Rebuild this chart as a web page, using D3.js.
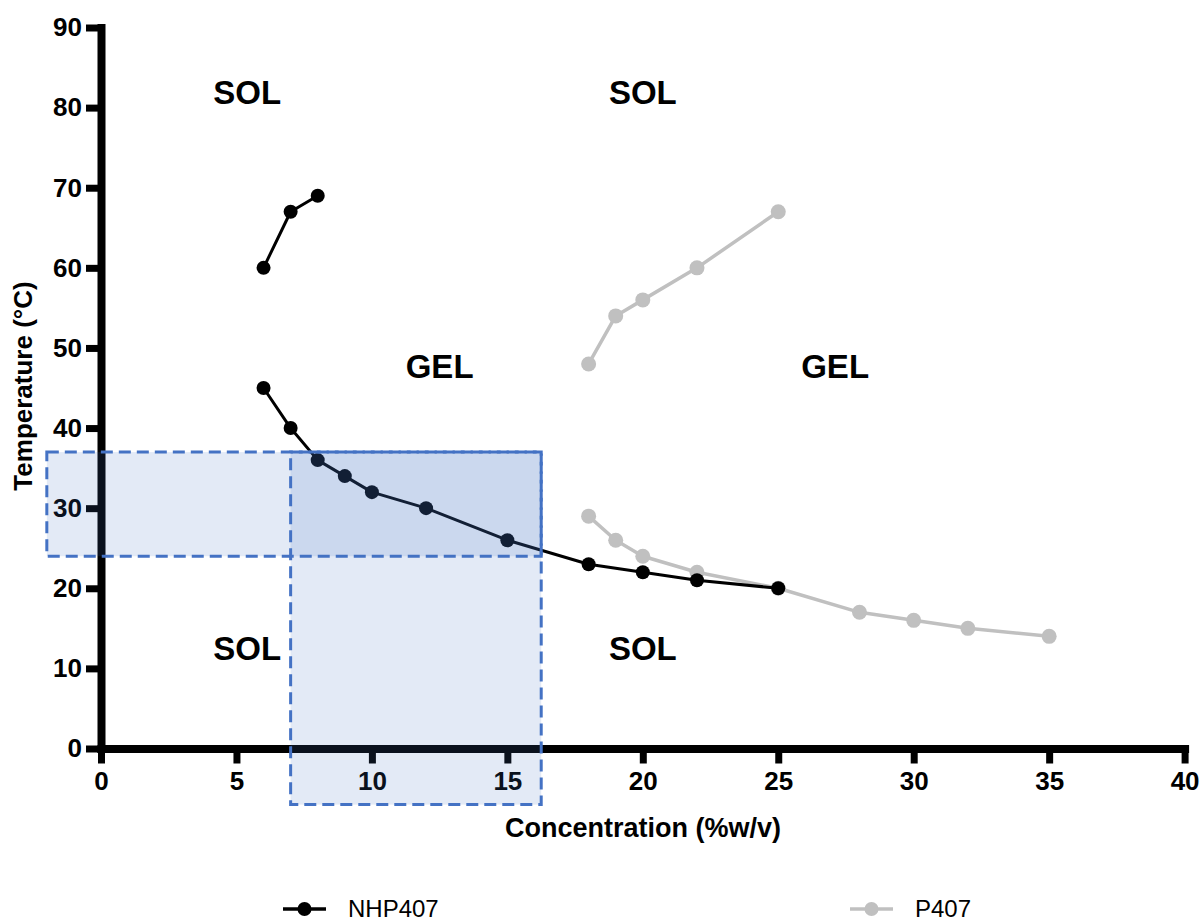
<!DOCTYPE html>
<html>
<head>
<meta charset="utf-8">
<script src="https://cdn.jsdelivr.net/npm/d3@7"></script>
<style>
  html, body { margin: 0; padding: 0; background: #fff; }
  svg { display: block; font-family: "Liberation Sans", Arial, Helvetica, sans-serif; }
</style>
</head>
<body>
<svg id="chart" width="1204" height="921"></svg>
<script>
// ---------------- data ----------------
const xTicks = [0, 5, 10, 15, 20, 25, 30, 35, 40];
const yTicks = [0, 10, 20, 30, 40, 50, 60, 70, 80, 90];

// NHP407 (black) — two branches
const nhpUpperConc = [6, 7, 8];
const nhpUpperTemp = [60, 67, 69];
const nhpLowerConc = [6, 7, 8, 9, 10, 12, 15, 18, 20, 22, 25];
const nhpLowerTemp = [45, 40, 36, 34, 32, 30, 26, 23, 22, 21, 20];

// P407 (grey) — two branches
const pUpperConc = [18, 19, 20, 22, 25];
const pUpperTemp = [48, 54, 56, 60, 67];
const pLowerConc = [18, 19, 20, 22, 25, 28, 30, 32, 35];
const pLowerTemp = [29, 26, 24, 22, 20, 17, 16, 15, 14];

// phase-region annotations (concentration, temperature of label centre)
const regionLabels = ["SOL", "SOL", "GEL", "GEL", "SOL", "SOL"];
const regionConc = [5.4, 20.0, 12.5, 27.1, 5.4, 20.0];
const regionTemp = [81.9, 81.9, 47.75, 47.75, 12.55, 12.55];

// highlighted windows (concentration range x temperature range)
const windowConcLo = [-2, 7];
const windowConcHi = [16.25, 16.25];
const windowTempLo = [24, -7];
const windowTempHi = [37, 37];

const seriesNames = ["NHP407", "P407"];
const seriesColors = ["#000000", "#c0c0c0"];

// ---------------- chart ----------------
const svg = d3.select("#chart");
const font = '"Liberation Sans", Arial, Helvetica, sans-serif';

const x = d3.scaleLinear().domain([0, 40]).range([101, 1184.6]);
const y = d3.scaleLinear().domain([0, 90]).range([748.5, 27.5]);

// axes
const yAxis = d3.axisLeft(y).tickValues(yTicks).tickSize(15).tickSizeOuter(0).tickPadding(4);
const xAxis = d3.axisBottom(x).tickValues(xTicks).tickSize(15).tickSizeOuter(0).tickPadding(8);

const gy = svg.append("g").attr("transform", `translate(${x(0)},0)`).call(yAxis);
const gx = svg.append("g").attr("transform", `translate(0,${y(0)})`).call(xAxis);

[gx, gy].forEach(g => {
  g.select(".domain").attr("stroke", "#000").attr("stroke-width", 8).attr("stroke-linecap", "square");
  g.selectAll(".tick line").attr("stroke", "#000").attr("stroke-width", 7);
  g.selectAll(".tick text")
    .attr("fill", "#000")
    .style("font-family", font)
    .style("font-size", "26px")
    .style("font-weight", "bold");
});

// axis titles
svg.append("text")
  .attr("transform", `translate(32,${386}) rotate(-90)`)
  .attr("text-anchor", "middle")
  .style("font-size", "26px").style("font-weight", "bold")
  .text("Temperature (°C)");

svg.append("text")
  .attr("x", 643).attr("y", 837)
  .attr("text-anchor", "middle")
  .style("font-size", "27px").style("font-weight", "bold")
  .text("Concentration (%w/v)");

// series
const line = d3.line().x(d => x(d[0])).y(d => y(d[1]));
function drawSeries(conc, temp, color, strokeW, r) {
  const pts = conc.map((c, i) => [c, temp[i]]);
  svg.append("path").datum(pts)
    .attr("d", line).attr("fill", "none")
    .attr("stroke", color).attr("stroke-width", strokeW)
    .attr("stroke-linejoin", "round");
  svg.append("g").selectAll("circle").data(pts).join("circle")
    .attr("cx", d => x(d[0])).attr("cy", d => y(d[1]))
    .attr("r", r).attr("fill", color);
}
drawSeries(pUpperConc, pUpperTemp, seriesColors[1], 3.5, 7.5);
drawSeries(pLowerConc, pLowerTemp, seriesColors[1], 3.5, 7.5);
drawSeries(nhpUpperConc, nhpUpperTemp, seriesColors[0], 3, 7);
drawSeries(nhpLowerConc, nhpLowerTemp, seriesColors[0], 3, 7);

// region labels
svg.append("g").selectAll("text").data(regionLabels).join("text")
  .attr("x", (d, i) => x(regionConc[i]))
  .attr("y", (d, i) => y(regionTemp[i]))
  .attr("dy", "0.36em")
  .attr("text-anchor", "middle")
  .style("font-size", "33px").style("font-weight", "bold")
  .text(d => d);

// highlighted windows (translucent, on top)
svg.append("g").selectAll("rect").data(windowConcLo).join("rect")
  .attr("x", (d, i) => x(windowConcLo[i]))
  .attr("y", (d, i) => y(windowTempHi[i]))
  .attr("width", (d, i) => x(windowConcHi[i]) - x(windowConcLo[i]))
  .attr("height", (d, i) => y(windowTempLo[i]) - y(windowTempHi[i]))
  .attr("fill", "rgba(68,114,196,0.15)")
  .attr("stroke", "#4472c4")
  .attr("stroke-width", 3)
  .attr("stroke-dasharray", "12,6");

// legend
const legendX = [283, 850];
const legendY = 909;
const lg = svg.append("g");
seriesNames.forEach((name, i) => {
  lg.append("line")
    .attr("x1", legendX[i]).attr("x2", legendX[i] + 43)
    .attr("y1", legendY).attr("y2", legendY)
    .attr("stroke", seriesColors[i]).attr("stroke-width", 3.5);
  lg.append("circle")
    .attr("cx", legendX[i] + 21.5).attr("cy", legendY).attr("r", 7)
    .attr("fill", seriesColors[i]);
  lg.append("text")
    .attr("x", legendX[i] + 65).attr("y", legendY + 8)
    .style("font-size", "24px")
    .attr("fill", "#000")
    .text(name);
});
</script>
</body>
</html>
